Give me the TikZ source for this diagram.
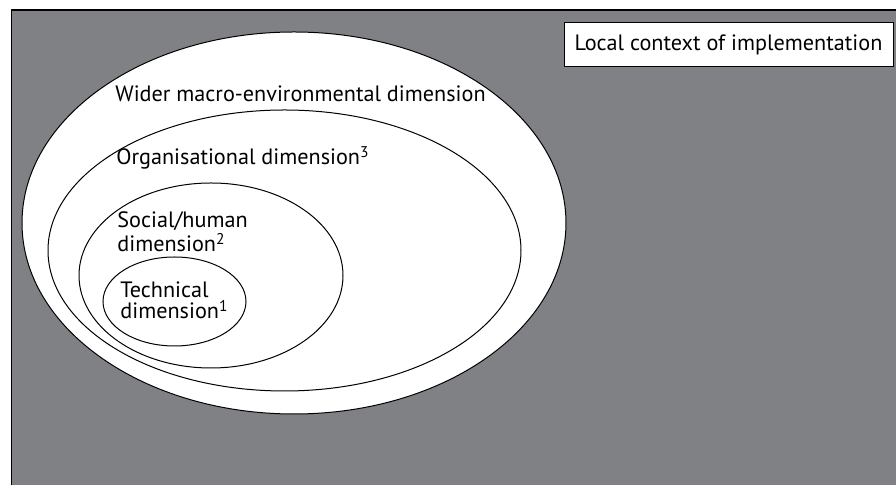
\documentclass[tikz,border=0pt]{standalone}
\usepackage{fontspec}
\setmainfont{PT Sans}
\usetikzlibrary{shapes.geometric}

\definecolor{contextgray}{RGB}{128,129,133}

\tikzset{dimension/.style={ellipse,draw,fill=white,line width=0.5pt,inner sep=0pt},
	dimlabel/.style={anchor=base west,align=left,inner sep=0pt,font=\fontsize{11.1}{10.8}\selectfont}}

\begin{document}
\begin{tikzpicture}[x=0.5pt,y=-0.5pt]
\useasboundingbox (0,0) rectangle (896,485);
\clip (0,0) rectangle (896,485);
% local context of implementation
\draw[fill=contextgray,line width=0.6pt] (11.5,10) rectangle (910,500);
\node [draw,fill=white,line width=0.5pt,minimum width=164.5pt,minimum height=22pt,inner sep=0pt,font=\fontsize{11.1}{10}\selectfont] (context) at (728.5,45) {Local context of implementation};
% nested dimensions
\node [dimension,minimum width=272pt,minimum height=191pt] (macro) at (294,223) {};
\node [dimension,minimum width=236.5pt,minimum height=140.5pt] (organisational) at (284.5,250.5) {};
\node [dimension,minimum width=132pt,minimum height=92.5pt] (social) at (211,275.5) {};
\node [dimension,minimum width=71.5pt,minimum height=44.5pt] (technical) at (174.5,301.5) {};
% labels (multi-line ones sit on their last baseline)
\node [dimlabel] (macrolabel) at (115,102) {Wider macro-environmental dimension};
\node [dimlabel] (orglabel) at (116,165) {Organisational dimension\textsuperscript{3}};
\node [dimlabel] (sociallabel) at (117,252) {Social/human\\dimension\textsuperscript{2}};
\node [dimlabel] (techlabel) at (120,319) {Technical\\dimension\textsuperscript{1}};
\end{tikzpicture}
\end{document}
